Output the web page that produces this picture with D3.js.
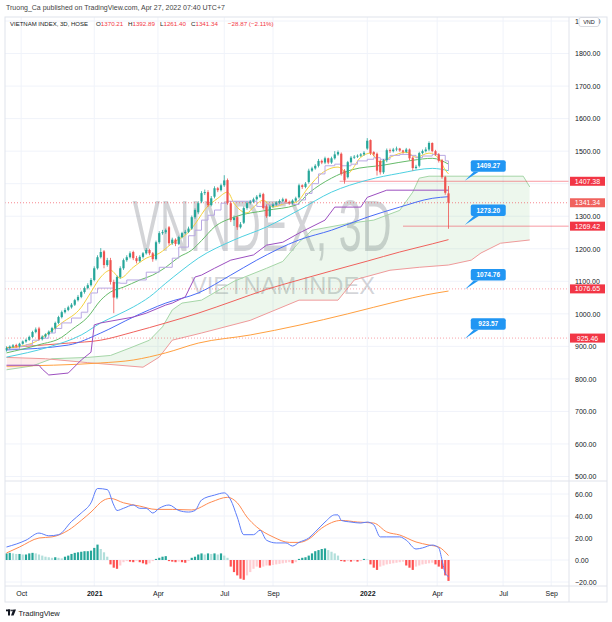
<!DOCTYPE html>
<html>
<head>
<meta charset="UTF-8">
<script src="https://d3js.org/d3.v7.min.js"></script>
<style>
  body { margin: 0; background: #fff; }
  svg { display: block; font-family: "Liberation Sans", Arial, sans-serif; }
</style>
</head>
<body>
<div id="my_dataviz"></div>
<script>

// candles, one per 3D bar
var opens = [888,895,899,904,900,908,915,920,929,944,
955,922,930,937,945,956,972,990,1005,1012,
1020,1028,1042,1052,1067,1079,1088,1104,1140,1174,
1192,1150,1165,1098,1050,1113,1140,1165,1174,1190,
1171,1162,1175,1186,1196,1186,1168,1220,1248,1251,
1266,1217,1228,1215,1236,1248,1252,1262,1297,1312,
1345,1371,1374,1334,1360,1386,1380,1395,1411,1340,
1288,1297,1266,1280,1325,1340,1345,1352,1360,1368,
1330,1300,1330,1336,1342,1347,1352,1344,1340,1348,
1358,1395,1390,1405,1440,1447,1455,1470,1465,1478,
1465,1478,1490,1492,1440,1420,1466,1480,1483,1486,
1490,1508,1534,1497,1492,1470,1435,1472,1503,1500,
1505,1508,1502,1498,1505,1480,1448,1455,1494,1500,
1505,1525,1500,1490,1472,1420,1370.21];
var highs = [900,903,907,908,911,918,924,933,948,958,
960,934,940,949,960,976,994,1010,1018,1025,
1033,1046,1058,1071,1084,1094,1110,1146,1180,1202,
1196,1172,1172,1105,1118,1146,1170,1180,1192,1194,
1178,1180,1190,1202,1200,1190,1225,1254,1258,1262,
1270,1234,1232,1240,1252,1258,1268,1302,1324,1346,
1377,1382,1380,1362,1392,1390,1400,1426,1416,1346,
1302,1300,1282,1330,1345,1350,1357,1365,1372,1372,
1336,1334,1340,1346,1352,1357,1355,1348,1352,1360,
1400,1398,1405,1446,1452,1460,1476,1474,1483,1480,
1483,1500,1502,1496,1445,1470,1485,1488,1490,1494,
1500,1540,1536,1500,1496,1474,1476,1508,1508,1510,
1514,1510,1504,1510,1508,1484,1458,1498,1505,1512,
1530,1527,1504,1494,1476,1424,1392.89];
var lows = [884,891,895,896,897,905,911,917,926,940,
918,918,926,934,941,952,968,986,1001,1008,
1016,1024,1038,1048,1062,1075,1084,1100,1136,1170,
1140,1145,1090,1002,1045,1108,1135,1160,1170,1165,
1155,1158,1170,1182,1180,1160,1164,1215,1243,1246,
1210,1212,1208,1211,1232,1244,1248,1258,1292,1306,
1340,1365,1328,1330,1355,1374,1376,1390,1335,1282,
1270,1258,1262,1276,1320,1336,1340,1348,1356,1320,
1295,1298,1326,1332,1338,1343,1340,1335,1336,1344,
1354,1384,1386,1400,1436,1443,1450,1460,1460,1460,
1461,1474,1486,1425,1400,1416,1462,1476,1479,1482,
1486,1504,1488,1484,1425,1428,1430,1466,1494,1496,
1500,1498,1492,1494,1472,1440,1444,1450,1490,1496,
1500,1496,1486,1465,1415,1366,1261.40];
var closes = [895,899,903,900,908,915,920,929,944,952,
922,930,937,945,956,972,990,1005,1012,1020,
1028,1042,1052,1067,1079,1088,1104,1140,1174,1190,
1150,1165,1098,1050,1113,1140,1165,1174,1186,1171,
1162,1175,1186,1196,1186,1168,1220,1248,1251,1257,
1217,1228,1215,1236,1248,1252,1262,1297,1319,1340,
1371,1374,1334,1355,1386,1380,1395,1410,1340,1288,
1295,1266,1275,1325,1340,1345,1352,1360,1366,1325,
1300,1330,1336,1342,1347,1352,1344,1340,1348,1355,
1395,1390,1400,1440,1447,1455,1470,1465,1478,1465,
1478,1490,1497,1430,1410,1466,1480,1483,1486,1490,
1495,1532,1494,1490,1440,1435,1472,1503,1500,1505,
1508,1502,1498,1505,1478,1448,1452,1494,1500,1505,
1525,1500,1490,1470,1420,1372,1341.34];

// moving averages, [bar, value]
var yellowMA = [[0,895],[8,910],[12,935],[17,972],[23,1020],[26,1067],[29,1113],[32,1134],[35,1110],[39,1143],[43,1171],[47,1186],[51,1217],[56,1251],[59,1290],[61,1320],[65,1355],[68,1374],[70,1340],[72,1318],[74,1310],[76,1328],[79,1349],[82,1328],[86,1340],[89,1343],[93,1390],[97,1432],[102,1451],[105,1432],[109,1481],[112,1494],[115,1466],[118,1481],[123,1497],[126,1481],[130,1494],[133,1478],[135,1442],[136,1430]];
var greenMA = [[0,880],[10,905],[17,928],[20,951],[25,990],[29,1042],[32,1067],[36,1082],[41,1104],[45,1119],[49,1143],[53,1174],[57,1196],[60,1225],[64,1267],[70,1297],[80,1318],[89,1334],[93,1371],[100,1417],[106,1442],[116,1457],[125,1472],[131,1478],[136,1460]];
var cyanMA = [[0,867],[13,898],[23,935],[29,972],[34,996],[39,1021],[44,1052],[49,1094],[54,1134],[59,1171],[70,1227],[80,1267],[90,1319],[100,1374],[111,1411],[121,1432],[131,1447],[136,1440]];
var blueMA = [[0,889],[19,904],[29,941],[39,990],[49,1033],[59,1064],[69,1119],[77,1165],[90,1227],[100,1257],[111,1297],[121,1328],[131,1355],[136,1360]];
var redMA = [[0,896],[19,910],[29,919],[39,944],[49,972],[59,1002],[70,1040],[80,1075],[90,1104],[100,1132],[111,1162],[121,1190],[131,1215],[136,1228]];
var orangeMA = [[0,839],[29,849],[39,858],[49,880],[59,910],[75,935],[90,965],[105,1000],[121,1040],[129,1058],[136,1070]];

// ichimoku
var conversion = [[0,892],[4,900],[6,905],[8,919],[10,925],[13,941],[15,955],[17,972],[20,987],[23,1005],[25,1033],[26,1064],[28,1079],[32,1079],[33,1095],[35,1094],[37,1104],[41,1104],[43,1128],[47,1143],[51,1171],[53,1205],[56,1240],[58,1257],[60,1288],[62,1303],[64,1319],[66,1340],[68,1346],[74,1346],[77,1330],[80,1335],[84,1340],[88,1336],[90,1350],[92,1370],[94,1400],[96,1430],[98,1455],[101,1460],[103,1455],[106,1460],[108,1470],[111,1475],[113,1480],[115,1475],[118,1487],[121,1490],[124,1487],[126,1480],[128,1485],[131,1490],[133,1487],[135,1470],[136,1440]];
var baseLine = [[0,842],[10,842],[11,830],[13,812],[19,818],[23,858],[26,882],[27,966],[29,972],[39,990],[43,1002],[49,1027],[51,1033],[55,1052],[58,1113],[60,1119],[64,1140],[69,1165],[76,1181],[80,1211],[85,1220],[90,1248],[98,1288],[101,1328],[109,1328],[111,1358],[117,1380],[136,1380]];
var spanA = [[0,828],[8,840],[14,862],[25,866],[32,872],[38,895],[44,919],[48,960],[51,1012],[54,1033],[60,1042],[70,1100],[80,1140],[85,1161],[90,1220],[94,1257],[106,1279],[113,1288],[121,1318],[125,1374],[127,1417],[130,1423],[159,1423],[161,1390]];
var spanB = [[0,866],[12,862],[25,850],[42,836],[47,867],[51,919],[60,941],[75,980],[90,1042],[102,1042],[107,1104],[118,1134],[127,1143],[136,1150],[143,1165],[146,1187],[152,1217],[161,1227]];

// MACD
var macdLine = [[0,11.8],[6,18],[10,24.5],[13,22],[16,23],[20,35],[23,42.7],[26,52],[28,65],[31,64],[33,50],[34,45],[36,47],[39,50],[41,47],[43,47],[45,42.7],[47,47],[50,50],[53,45],[56,43.6],[58,45],[60,54.5],[64,59],[67,61],[69,54.5],[71,39],[73,23],[76,23],[78,27],[80,18],[83,15.5],[86,15.5],[88,12.7],[90,16],[93,20],[95,25.5],[98,34.5],[101,41],[102,41],[103,36],[106,34.5],[109,33.6],[111,34.5],[113,32],[115,21],[117,21],[121,21],[123,18],[126,10],[128,11],[131,13.6],[133,11],[134,0],[135,-12],[136,-15]];
var signalLine = [[0,6.4],[4,11.8],[10,20],[14,21],[19,27],[23,36],[26,43.6],[30,54.5],[32,56],[36,52],[41,49],[46,46],[51,46],[57,45.5],[63,52.7],[68,57],[71,52],[74,39],[77,30],[82,21],[87,16],[90,16],[93,19],[97,29],[103,36],[108,34.5],[113,33.6],[117,25.5],[121,22.7],[126,16.4],[130,13.6],[133,11.8],[136,4]];
var histogram = [6,6.5,6,5.5,5.5,5,5,6,6.5,6,
5,4,3,2.5,2,2.5,2,1.5,3,4,
5.5,6.5,7,7.5,8,8,8.5,11,14,10,
7,3,-4,-7,-8,-5,-2,-1,-1.5,-2,
-1,-2,-3,-4,-3,-1,1,2,3,3.5,
-1,-1.5,-2,-1.5,-2,-2.5,-1,2,3,5,
6,5,6,5.5,6,5,6,4,2,-6,
-11,-14,-17,-18,-14,-11,-8,-6,-7,-6,
-5,-5,-4.5,-4,-3.5,-3,-2.5,-2,-3,-2,
1,2,2.5,4,6,8,9,10,10.5,9,
7.5,6,4,-1,-1.5,-1,-1.5,-1,-1.5,-1,
1,0.5,-4,-7,-9,-6,-5,-4,-3.5,-3,
-2.5,-2,-1.5,-5,-7,-9,-6,-5,-4,-3.5,
-3,-2.5,-4,-6,-8,-14,-19];

// scales ticks (1400 sits under the 1407.38 badge, so it has no label)
var priceTicks = [500,600,700,800,900,1000,1100,1200,1300,1400,1500,1600,1700,1800,1900];
var priceLabels = [500,600,700,800,900,1000,1100,1200,1300,1500,1600,1700,1800,1900];
var macdTicks = [-20,0,20,40,60];
var timeTickBars = [4.5,27,46.6,67,82,111,132.5,152.8,167.6];
var timeTickText = ["Oct","2021","Apr","Jul","Sep","2022","Apr","Jul","Sep"];

// drawings
var levelVals = [1407.38,1269.42,1076.65,925.46];
var levelFrom = [102.5,122,0,0];
var lastPrice = 1341.34;
var noteVals = [1409.27,1273.20,1074.76,923.57];
var noteBar = 141;

var W = 612, H = 622;
var pLeft = 5, pRight = 569, pTop = 17, pBottom = 481, mBottom = 586, aBottom = 602;

var svg = d3.select("#my_dataviz").append("svg")
  .attr("width", W).attr("height", H);

var x = d3.scaleLinear().domain([0, closes.length - 1]).range([6.5, 448.5]);
var y = d3.scaleLinear().domain([500, 1900]).range([476.5, 21]);
var ym = d3.scaleLinear().domain([-20, 60]).range([582, 494]);

var defs = svg.append("defs");
defs.append("clipPath").attr("id", "clipP").append("rect")
  .attr("x", pLeft).attr("y", pTop).attr("width", pRight - pLeft).attr("height", pBottom - pTop);
defs.append("clipPath").attr("id", "clipM").append("rect")
  .attr("x", pLeft).attr("y", pBottom).attr("width", pRight - pLeft).attr("height", mBottom - pBottom);

// cloud clip shapes
var aboveLine = function(s) { return d3.area().x(d => x(d[0])).y0(pTop).y1(d => y(d[1]))(s); };
var belowLine = function(s) { return d3.area().x(d => x(d[0])).y0(d => y(d[1])).y1(pBottom)(s); };
defs.append("clipPath").attr("id", "clipAboveB").append("path").attr("d", aboveLine(spanB));
defs.append("clipPath").attr("id", "clipBelowB").append("path").attr("d", belowLine(spanB));

// header
svg.append("text").attr("x", 6).attr("y", 10).attr("font-size", 7).attr("fill", "#444")
  .text("Truong_Ca published on TradingView.com, Apr 27, 2022 07:40 UTC+7");

// grid
var grid = svg.append("g");
grid.selectAll(".hg").data(priceTicks).enter().append("line")
  .attr("x1", pLeft).attr("x2", pRight)
  .attr("y1", d => y(d)).attr("y2", d => y(d))
  .attr("stroke", "#f0f3fa");
grid.selectAll(".mg").data(macdTicks).enter().append("line")
  .attr("x1", pLeft).attr("x2", pRight)
  .attr("y1", d => ym(d)).attr("y2", d => ym(d))
  .attr("stroke", "#f0f3fa");
grid.selectAll(".vg").data(timeTickBars).enter().append("line")
  .attr("x1", d => x(d)).attr("x2", d => x(d))
  .attr("y1", pTop).attr("y2", mBottom)
  .attr("stroke", "#f0f3fa");

// watermark
svg.append("text").attr("x", 262).attr("y", 251).attr("text-anchor", "middle")
  .attr("font-size", 72).attr("fill", "#787b86").attr("fill-opacity", 0.33)
  .attr("textLength", 259).attr("lengthAdjust", "spacingAndGlyphs")
  .text("VNINDEX, 3D");
svg.append("text").attr("x", 283).attr("y", 294).attr("text-anchor", "middle")
  .attr("font-size", 24).attr("fill", "#787b86").attr("fill-opacity", 0.33)
  .attr("textLength", 184).attr("lengthAdjust", "spacingAndGlyphs")
  .text("VIETNAM INDEX");

var pane = svg.append("g").attr("clip-path", "url(#clipP)");

// ichimoku cloud
pane.append("g").attr("clip-path", "url(#clipAboveB)").append("path")
  .attr("d", belowLine(spanA)).attr("fill", "#4caf50").attr("fill-opacity", 0.1);
pane.append("g").attr("clip-path", "url(#clipBelowB)").append("path")
  .attr("d", aboveLine(spanA)).attr("fill", "#f44336").attr("fill-opacity", 0.1);

var line = d3.line().x(d => x(d[0])).y(d => y(d[1]));
var stepLine = d3.line().x(d => x(d[0])).y(d => y(d[1])).curve(d3.curveStepAfter);
var smooth = d3.line().x(d => x(d[0])).y(d => y(d[1])).curve(d3.curveMonotoneX);

function addLine(g, gen, data, color, w) {
  g.append("path").attr("d", gen(data)).attr("fill", "none")
    .attr("stroke", color).attr("stroke-width", w || 1);
}
addLine(pane, line, spanA, "#a5d6a7");
addLine(pane, line, spanB, "#ef9a9a");

// level lines
pane.append("line").attr("x1", pLeft).attr("x2", pRight)
  .attr("y1", y(lastPrice)).attr("y2", y(lastPrice))
  .attr("stroke", "#f23645").attr("stroke-opacity", 0.6).attr("stroke-dasharray", "1,2");
pane.selectAll(".lvl").data(levelVals).enter().append("line")
  .attr("x1", (d, i) => levelFrom[i] > 0 ? x(levelFrom[i]) : pLeft).attr("x2", pRight)
  .attr("y1", d => y(d)).attr("y2", d => y(d))
  .attr("stroke", "#f23645")
  .attr("stroke-opacity", (d, i) => levelFrom[i] > 0 ? 0.5 : 0.45)
  .attr("stroke-dasharray", (d, i) => levelFrom[i] > 0 ? null : "1,2");

// MAs
addLine(pane, smooth, orangeMA, "#ffa040");
addLine(pane, smooth, redMA, "#f0625d");
addLine(pane, smooth, blueMA, "#4a6cf7");
addLine(pane, smooth, cyanMA, "#4dd0e1");
addLine(pane, smooth, greenMA, "#66bb6a");
addLine(pane, smooth, yellowMA, "#f5d13c");
addLine(pane, line, baseLine, "#9c4fc0");
addLine(pane, stepLine, conversion, "#b9a8e3");

// candles
var idx = d3.range(closes.length);
pane.selectAll(".wick").data(idx).enter().append("line")
  .attr("x1", i => x(i)).attr("x2", i => x(i))
  .attr("y1", i => y(highs[i])).attr("y2", i => y(lows[i]))
  .attr("stroke", i => closes[i] >= opens[i] ? "#26a69a" : "#ef5350").attr("stroke-width", 0.8);
pane.selectAll(".body").data(idx).enter().append("rect")
  .attr("x", i => x(i) - 1.1).attr("width", 2.2)
  .attr("y", i => y(Math.max(opens[i], closes[i])))
  .attr("height", i => Math.max(0.8, Math.abs(y(opens[i]) - y(closes[i]))))
  .attr("fill", i => closes[i] >= opens[i] ? "#26a69a" : "#ef5350");

// notes
var notes = pane.selectAll(".note").data(noteVals).enter().append("g");
notes.append("path")
  .attr("d", d => "M" + x(noteBar) + "," + y(d) + "L" + (x(noteBar) + 9) + "," + (y(d) - 9) + "L" + (x(noteBar) + 14) + "," + (y(d) - 9) + "Z")
  .attr("fill", "#2196f3");
notes.append("rect")
  .attr("x", x(noteBar) + 6).attr("y", d => y(d) - 20.5)
  .attr("width", 35).attr("height", 11.5).attr("rx", 2)
  .attr("fill", "#2196f3");
notes.append("text")
  .attr("x", x(noteBar) + 23.5).attr("y", d => y(d) - 12.3)
  .attr("text-anchor", "middle").attr("font-size", 6.5).attr("font-weight", "bold")
  .attr("fill", "#fff").text(d => d.toFixed(2));

// MACD pane
var mp = svg.append("g").attr("clip-path", "url(#clipM)");
mp.selectAll(".hist").data(idx).enter().append("rect")
  .attr("x", i => x(i) - 1.1).attr("width", 2.2)
  .attr("y", i => Math.min(ym(0), ym(histogram[i])))
  .attr("height", i => Math.abs(ym(histogram[i]) - ym(0)))
  .attr("fill", function(i) {
    var v = histogram[i], p = i > 0 ? histogram[i - 1] : v;
    if (v >= 0) return v >= p ? "#26a69a" : "#b2dfdb";
    return v <= p ? "#ff5252" : "#ffcdd2";
  });
var mline = d3.line().x(d => x(d[0])).y(d => ym(d[1])).curve(d3.curveMonotoneX);
addLine(mp, mline, signalLine, "#ff8a50");
addLine(mp, mline, macdLine, "#5b7cfa");

// frame
svg.append("rect").attr("x", pLeft).attr("y", pTop).attr("width", 607 - pLeft).attr("height", aBottom - pTop)
  .attr("fill", "none").attr("stroke", "#e0e3eb");
svg.append("line").attr("x1", pRight).attr("x2", pRight).attr("y1", pTop).attr("y2", aBottom).attr("stroke", "#e0e3eb");
svg.append("line").attr("x1", pLeft).attr("x2", 607).attr("y1", pBottom).attr("y2", pBottom).attr("stroke", "#e0e3eb");
svg.append("line").attr("x1", pLeft).attr("x2", 607).attr("y1", mBottom).attr("y2", mBottom).attr("stroke", "#e0e3eb");

// legend line
var leg = svg.append("text").attr("x", 10).attr("y", 26).attr("font-size", 6.2).attr("fill", "#131722");
leg.append("tspan").attr("textLength", 78).attr("lengthAdjust", "spacingAndGlyphs").text("VIETNAM INDEX, 3D, HOSE");
var ohlcLab = ["O", "H", "L", "C"];
var ohlcVal = [opens[136], highs[136], lows[136], closes[136]];
var ohlcX = [96, 128, 160, 191];
ohlcLab.forEach(function(l, i) {
  leg.append("tspan").attr("x", ohlcX[i]).text(l);
  leg.append("tspan").attr("fill", "#f23645").text(ohlcVal[i].toFixed(2));
});
leg.append("tspan").attr("x", 228).attr("fill", "#f23645").text("\u221228.87 (\u22122.11%)");

// price axis
var yAxis = svg.append("g").attr("transform", "translate(" + pRight + ",0)")
  .call(d3.axisRight(y).tickValues(priceLabels).tickFormat(d3.format(".2f")).tickSize(0).tickPadding(6));
var mAxis = svg.append("g").attr("transform", "translate(" + pRight + ",0)")
  .call(d3.axisRight(ym).tickValues(macdTicks).tickFormat(d3.format(".2f")).tickSize(0).tickPadding(6));
[yAxis, mAxis].forEach(function(a) {
  a.select(".domain").remove();
  a.selectAll("text").attr("font-size", 7).attr("fill", "#131722")
    .attr("font-family", "Liberation Sans, Arial, sans-serif");
});
mAxis.selectAll("text").text(d => d < 0 ? "\u2212" + Math.abs(d).toFixed(2) : d.toFixed(2));

// axis badges
var badgeVals = [levelVals[0], lastPrice, levelVals[1], levelVals[2], levelVals[3]];
var badges = svg.selectAll(".badge").data(badgeVals).enter().append("g");
badges.append("rect").attr("x", pRight + 1).attr("y", d => y(d) - 4.5)
  .attr("width", 35).attr("height", 9)
  .attr("fill", d => d === lastPrice ? "#f0625d" : "#f23645");
badges.append("text").attr("x", pRight + 18.5).attr("y", d => y(d) + 2.5)
  .attr("text-anchor", "middle").attr("font-size", 7).attr("fill", "#fff")
  .text(d => d.toFixed(2));

// VND badge
svg.append("rect").attr("x", 579).attr("y", 17.5).attr("width", 20).attr("height", 9).attr("rx", 2)
  .attr("fill", "#fff").attr("stroke", "#c9ccd4").attr("stroke-width", 0.7);
svg.append("text").attr("x", 589).attr("y", 24).attr("text-anchor", "middle")
  .attr("font-size", 5.5).attr("fill", "#131722").text("VND");

// time axis
var xAxis = svg.append("g").attr("transform", "translate(0," + mBottom + ")")
  .call(d3.axisBottom(x).tickValues(timeTickBars).tickFormat((d, i) => timeTickText[i]).tickSize(0).tickPadding(5));
xAxis.select(".domain").remove();
xAxis.selectAll("text").attr("font-size", 7).attr("fill", "#131722")
  .attr("font-family", "Liberation Sans, Arial, sans-serif")
  .attr("font-weight", (d, i) => /^\d+$/.test(timeTickText[i]) ? "bold" : null);

// footer logo
var logo = svg.append("g").attr("fill", "#131722");
logo.append("rect").attr("x", 6).attr("y", 609.5).attr("width", 4.5).attr("height", 1.8);
logo.append("rect").attr("x", 8).attr("y", 609.5).attr("width", 2).attr("height", 6);
logo.append("circle").attr("cx", 12).attr("cy", 610.4).attr("r", 0.9);
logo.append("path").attr("d", "M13.3,609.5L16,609.5L13.6,615.5L11,615.5Z");
svg.append("text").attr("x", 18.5).attr("y", 615.5).attr("font-size", 7.5).attr("fill", "#131722")
  .text("TradingView");

</script>
</body>
</html>
